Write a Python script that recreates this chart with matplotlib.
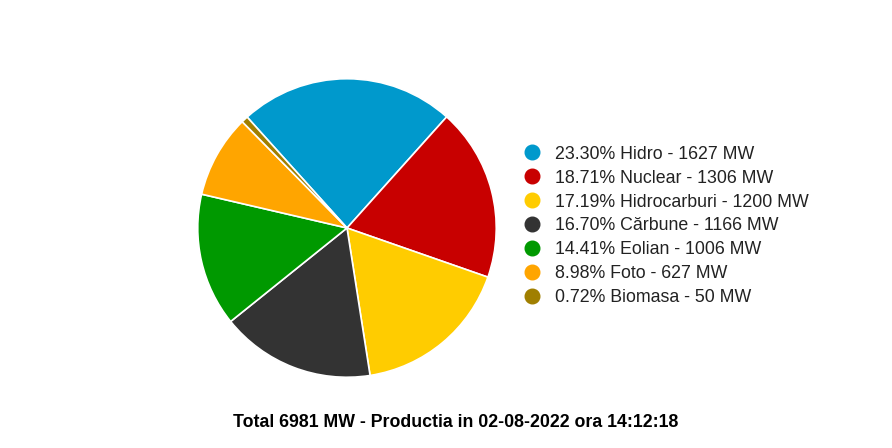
import matplotlib.pyplot as plt
from matplotlib.lines import Line2D

plt.rcParams['font.family'] = ['Liberation Sans', 'DejaVu Sans']

sources = ['Hidro', 'Nuclear', 'Hidrocarburi', 'Cărbune', 'Eolian', 'Foto', 'Biomasa']
power = [1627, 1306, 1200, 1166, 1006, 627, 50]
percents = ['23.30%', '18.71%', '17.19%', '16.70%', '14.41%', '8.98%', '0.72%']
colors = ['#0099cc', '#c80000', '#ffcc00', '#333333', '#009900', '#ffa500', '#a07f00']
total = 6981
title = 'Total %d MW - Productia in 02-08-2022 ora 14:12:18' % total

fig = plt.figure(figsize=(8.92, 4.48), dpi=100)
ax = fig.add_axes([197 / 892, 70 / 448, 300 / 892, 300 / 448])
ax.pie(power, colors=colors, startangle=132, counterclock=False, radius=1,
       wedgeprops={'edgecolor': 'white', 'linewidth': 1.2})
ax.set_xlim(-1.005, 1.005)
ax.set_ylim(-1.005, 1.005)
ax.set_aspect('equal')
ax.axis('off')

handles = [Line2D([], [], marker='o', linestyle='', markersize=10.5,
                  markerfacecolor=c, markeredgecolor=c) for c in colors]
labels = ['%s %s - %d MW' % (p, s, v) for p, s, v in zip(percents, sources, power)]
leg = fig.legend(handles, labels, loc='center left', bbox_to_anchor=(523 / 892, 1 - 226 / 448),
                 frameon=False, fontsize=12.8, labelspacing=0.39, handletextpad=0.79,
                 handlelength=1.0, borderaxespad=0, borderpad=0)
for t in leg.get_texts():
    t.set_color('#222222')

fig.text(456 / 892, 1 - 422 / 448, title, ha='center', va='center',
         fontsize=12.8, fontweight='bold', color='black')

fig.savefig('out.png', dpi=100)
